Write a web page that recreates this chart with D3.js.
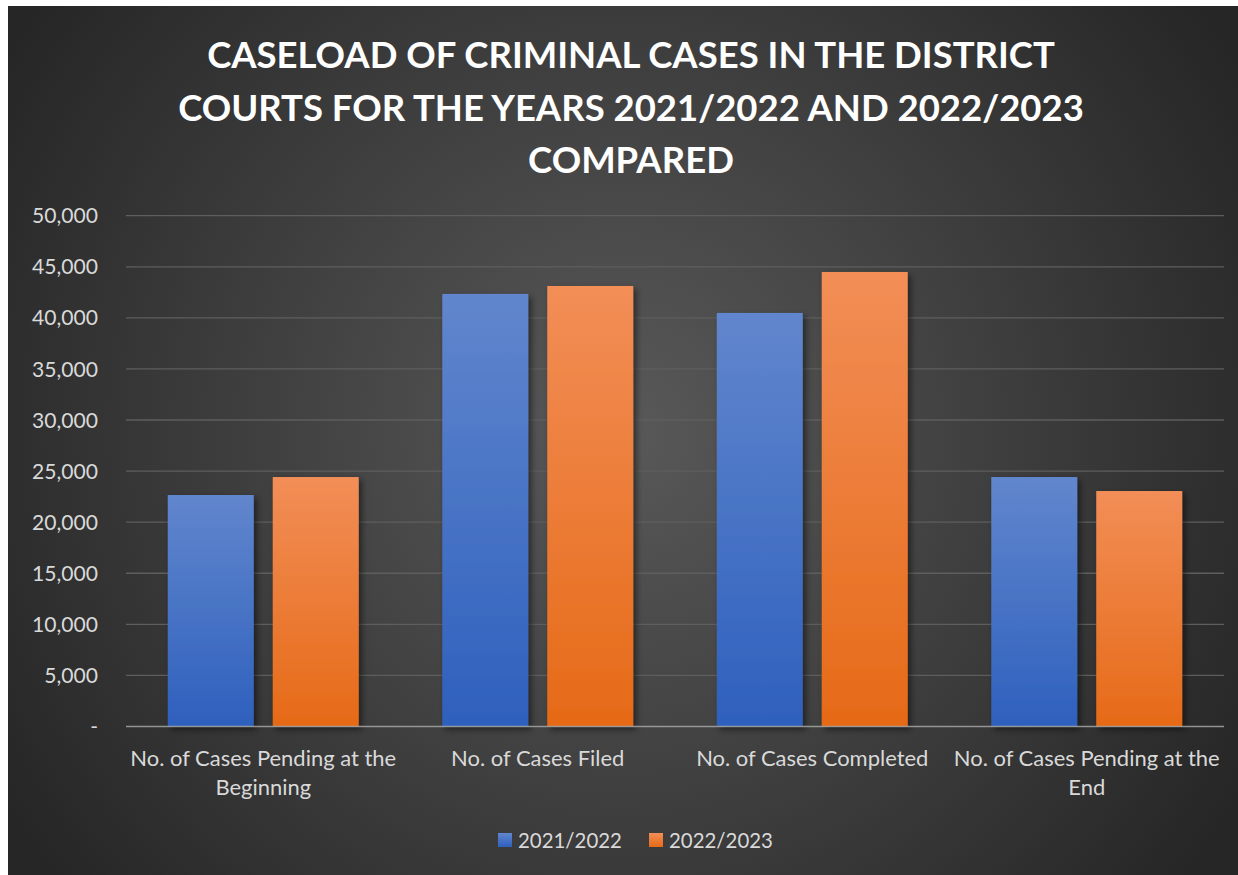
<!DOCTYPE html>
<html>
<head>
<meta charset="utf-8">
<script src="https://cdn.jsdelivr.net/npm/d3@7/dist/d3.min.js"></script>
<style>
html,body{margin:0;padding:0;background:#fff;}
svg{display:block;}
</style>
</head>
<body>
<svg id="chart" width="1238" height="875"></svg>
<script>
// ---- data ----
const titleLines = ["CASELOAD OF CRIMINAL CASES IN THE DISTRICT", "COURTS FOR THE YEARS 2021/2022 AND 2022/2023", "COMPARED"];
const categories = ["No. of Cases Pending at the Beginning", "No. of Cases Filed", "No. of Cases Completed", "No. of Cases Pending at the End"];
const categoryLines = [["No. of Cases Pending at the", "Beginning"], ["No. of Cases Filed"], ["No. of Cases Completed"], ["No. of Cases Pending at the", "End"]];
const seriesNames = ["2021/2022", "2022/2023"];
const values2021 = [22660, 42340, 40480, 24420];
const values2022 = [24420, 43120, 44490, 23050];
const yTicks = [0, 5000, 10000, 15000, 20000, 25000, 30000, 35000, 40000, 45000, 50000];

const seriesValues = [values2021, values2022];
const FONT = "Lato, 'Open Sans', sans-serif";

const svg = d3.select("#chart");
const W = 1238, H = 875;
const defs = svg.append("defs");

// background radial gradient
const bg = defs.append("radialGradient").attr("id", "bg")
  .attr("gradientUnits", "userSpaceOnUse")
  .attr("cx", 620).attr("cy", 430).attr("r", 720);
bg.append("stop").attr("offset", "0%").attr("stop-color", "#595959");
bg.append("stop").attr("offset", "100%").attr("stop-color", "#262626");

const barColors = [["#6186cd", "#2e60bd"], ["#f28e57", "#e66a17"]];
barColors.forEach((c, i) => {
  const g = defs.append("linearGradient").attr("id", "bar" + i)
    .attr("x1", 0).attr("y1", 0).attr("x2", 0).attr("y2", 1);
  g.append("stop").attr("offset", "0%").attr("stop-color", c[0]);
  g.append("stop").attr("offset", "100%").attr("stop-color", c[1]);
});
const f = defs.append("filter").attr("id", "shadow")
  .attr("x", "-20%").attr("y", "-20%").attr("width", "150%").attr("height", "150%");
f.append("feDropShadow").attr("dx", 3).attr("dy", 3).attr("stdDeviation", 3)
  .attr("flood-color", "#000").attr("flood-opacity", 0.5);

svg.append("rect").attr("x", 8).attr("y", 6).attr("width", W - 8).attr("height", H - 6)
  .attr("fill", "url(#bg)");

// helper: fit font size so a sample string has a target width
function fitSize(sample, target, weight) {
  const t = svg.append("text").attr("font-family", FONT).attr("font-weight", weight)
    .attr("font-size", 100).text(sample);
  const w = t.node().getComputedTextLength();
  t.remove();
  return 100 * target / w;
}

// ---- title ----
const titleSize = fitSize(titleLines[0], 848, 700);
const titleBaselines = [68, 121, 173];
svg.append("g").selectAll("text").data(titleLines).join("text")
  .attr("x", 631).attr("y", (d, i) => titleBaselines[i])
  .attr("text-anchor", "middle")
  .attr("font-family", FONT).attr("font-weight", 700)
  .attr("font-size", titleSize).attr("fill", "#ffffff")
  .text(d => d);

// ---- scales ----
const plotL = 126, plotR = 1224, plotT = 215.7, plotB = 726.5;
const y = d3.scaleLinear().domain([0, 50000]).range([plotB, plotT]);
const x0 = d3.scaleBand().domain(categories).range([plotL, plotR]).padding(0);
const x1 = d3.scaleBand().domain(seriesNames).range([0, x0.bandwidth()])
  .paddingInner(0.181).paddingOuter(0.398);

// gridlines
svg.append("g").selectAll("line").data(yTicks.filter(d => d > 0)).join("line")
  .attr("x1", plotL).attr("x2", plotR)
  .attr("y1", d => y(d)).attr("y2", d => y(d))
  .attr("stroke", "#5e5e5e").attr("stroke-width", 1.3);

// y tick labels
const tickSize = fitSize("50,000", 66, 400);
const fmt = d3.format(",");
svg.append("g").selectAll("text").data(yTicks).join("text")
  .attr("x", d => d === 0 ? 98 : 98).attr("y", d => y(d) + 7.6)
  .attr("text-anchor", "end")
  .attr("font-family", FONT).attr("font-size", tickSize).attr("fill", "#d9d9d9")
  .text(d => d === 0 ? "-" : fmt(d));

// bars
const groups = svg.append("g").selectAll("g").data(categories).join("g")
  .attr("transform", d => `translate(${x0(d)},0)`);
groups.selectAll("rect").data((d, ci) => seriesNames.map((s, si) => ({s, si, v: seriesValues[si][ci]})))
  .join("rect")
  .attr("x", d => x1(d.s)).attr("width", x1.bandwidth())
  .attr("y", d => y(d.v)).attr("height", d => y(0) - y(d.v))
  .attr("fill", d => `url(#bar${d.si})`)
  .attr("filter", "url(#shadow)");

// x axis line
svg.append("line").attr("x1", plotL).attr("x2", plotR)
  .attr("y1", plotB).attr("y2", plotB)
  .attr("stroke", "#a6a6a6").attr("stroke-opacity", 0.85).attr("stroke-width", 1.5);

// category labels
const catSize = fitSize("No. of Cases Pending at the", 266, 400);
const catG = svg.append("g").selectAll("text").data(categories).join("text")
  .attr("text-anchor", "middle")
  .attr("font-family", FONT).attr("font-size", catSize).attr("fill", "#d9d9d9");
catG.each(function(d, i) {
  const cx = x0(d) + x0.bandwidth() / 2;
  d3.select(this).selectAll("tspan").data(categoryLines[i]).join("tspan")
    .attr("x", cx).attr("y", (l, j) => 766 + j * 28.5).text(l => l);
});

// legend
const legSize = fitSize("2021/2022", 104, 400);
const legendX = [498, 649];
const leg = svg.append("g").selectAll("g").data(seriesNames).join("g")
  .attr("transform", (d, i) => `translate(${legendX[i]},0)`);
leg.append("rect").attr("x", 0).attr("y", 833).attr("width", 14).attr("height", 14)
  .attr("fill", (d, i) => `url(#bar${i})`);
leg.append("text").attr("x", 20).attr("y", 847.5)
  .attr("font-family", FONT).attr("font-size", legSize).attr("fill", "#d9d9d9")
  .text(d => d);
</script>
</body>
</html>
